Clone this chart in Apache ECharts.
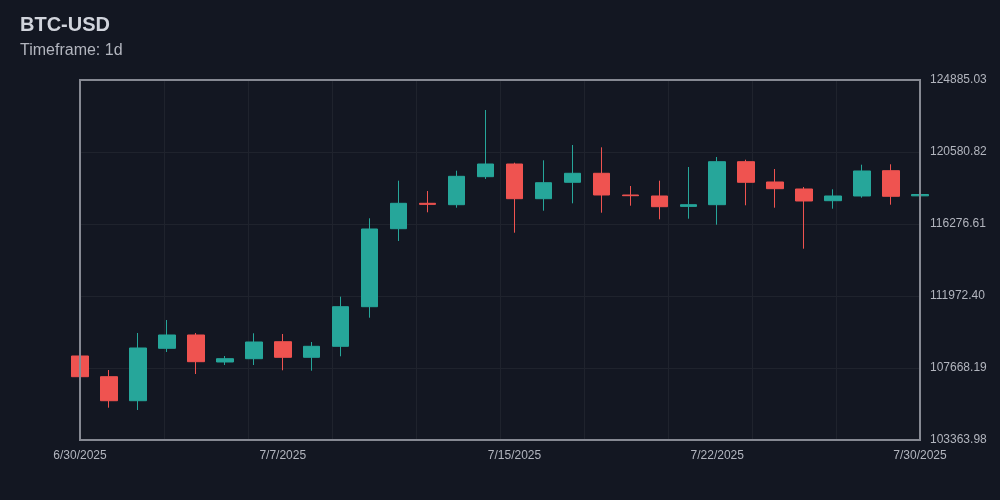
<!DOCTYPE html>
<html>
<head>
<meta charset="utf-8">
<title>BTC-USD</title>
<script src="https://cdn.jsdelivr.net/npm/echarts/dist/echarts.min.js"></script>
<style>
    html, body { margin: 0; padding: 0; background: #131722; }
    #price_chart { width: 1000px; height: 500px; }
</style>
</head>
<body>
<div id="price_chart"></div>
<script>
// daily candles
var dates = ['6/30/2025', '7/1/2025', '7/2/2025', '7/3/2025', '7/4/2025', '7/5/2025', '7/6/2025', '7/7/2025',
             '7/8/2025', '7/9/2025', '7/10/2025', '7/11/2025', '7/12/2025', '7/13/2025', '7/14/2025', '7/15/2025',
             '7/16/2025', '7/17/2025', '7/18/2025', '7/19/2025', '7/20/2025', '7/21/2025', '7/22/2025', '7/23/2025',
             '7/24/2025', '7/25/2025', '7/26/2025', '7/27/2025', '7/28/2025', '7/30/2025'];
var openVals  = [108386, 107148, 105713, 108846, 109641, 108027, 108224, 109240, 108308, 108965,
                 111333, 115996, 117514, 117431, 119105, 119863, 117789, 118770, 119308, 118010,
                 117951, 117330, 117431, 120001, 118788, 118369, 117670, 117951, 119463, 117960];
var closeVals = [107148, 105713, 108864, 109641, 108045, 108224, 109223, 108308, 108965, 111333,
                 115978, 117514, 117450, 119127, 119863, 117789, 118745, 119308, 118011, 117969,
                 117311, 117431, 120001, 118770, 118388, 117652, 117951, 119446, 117933, 118040];
var lowVals   = [106789, 105295, 105157, 108625, 107309, 107847, 107847, 107531, 107507, 108368,
                 110675, 115261, 116976, 117251, 118967, 115757, 117072, 117514, 116952, 117371,
                 116558, 116594, 116235, 117395, 117251, 114800, 117192, 117849, 117431, 117514];
var highVals  = [108804, 107548, 109761, 110538, 109761, 108386, 109743, 109701, 109223, 111931,
                 116618, 118865, 118249, 119463, 123092, 119941, 120084, 121000, 120861, 118548,
                 118865, 119684, 120282, 120121, 119565, 118489, 118351, 119822, 119846, 118489];

// axis settings
var xLabelIndex = [0, 7, 15, 22, 29];
var yMin = 103363.98;
var yMax = 124885.03;
var yStep = 4304.21;

function loadPriceChart(){

    var candles = [];
    for (var i = 0; i < dates.length; i++) {
        candles.push([openVals[i], closeVals[i], lowVals[i], highVals[i]]);
    }

    var myChart = echarts.init(document.getElementById('price_chart'));

    var option = {
        backgroundColor: '#131722',
        animation: false,
        textStyle: { fontFamily: 'Liberation Sans, Arial, sans-serif' },
        title: {
            text: 'BTC-USD',
            subtext: 'Timeframe: 1d',
            left: 15,
            top: 10,
            itemGap: 8,
            textStyle: { color: '#d1d4dc', fontSize: 20, fontWeight: 'bold' },
            subtextStyle: { color: '#b2b5be', fontSize: 16 }
        },
        grid: {
            show: true,
            z: 5,
            left: 80,
            right: 80,
            top: 80,
            bottom: 60,
            borderColor: '#868993',
            borderWidth: 2,
            backgroundColor: 'transparent'
        },
        xAxis: [
            {
                type: 'category',
                data: dates,
                boundaryGap: false,
                axisLine: { show: false },
                axisTick: { show: false },
                splitLine: { show: false },
                axisLabel: {
                    color: '#b2b5be',
                    fontSize: 12,
                    margin: 10,
                    interval: function (index) { return xLabelIndex.indexOf(index) >= 0; }
                }
            },
            {
                // only used for the vertical grid lines
                type: 'value',
                position: 'top',
                min: 0,
                max: 10,
                interval: 1,
                axisLine: { show: false },
                axisTick: { show: false },
                axisLabel: { show: false },
                splitLine: { show: true, lineStyle: { color: '#1f232d', width: 1 } }
            }
        ],
        yAxis: {
            type: 'value',
            position: 'right',
            scale: true,
            min: yMin,
            max: yMax,
            interval: yStep,
            axisLine: { show: false },
            axisTick: { show: false },
            axisLabel: {
                color: '#b2b5be',
                fontSize: 12,
                margin: 10,
                formatter: function (v) { return v.toFixed(2); }
            },
            splitLine: { show: true, lineStyle: { color: '#1f232d', width: 1 } }
        },
        series: [
            {
                name: 'BTC-USD',
                type: 'candlestick',
                data: candles,
                barWidth: 17,
                itemStyle: {
                    color: '#26a69a',
                    color0: '#ef5350',
                    borderColor: '#26a69a',
                    borderColor0: '#ef5350',
                    borderWidth: 1
                }
            }
        ]
    };

    myChart.setOption(option);
}

loadPriceChart();
</script>
</body>
</html>
